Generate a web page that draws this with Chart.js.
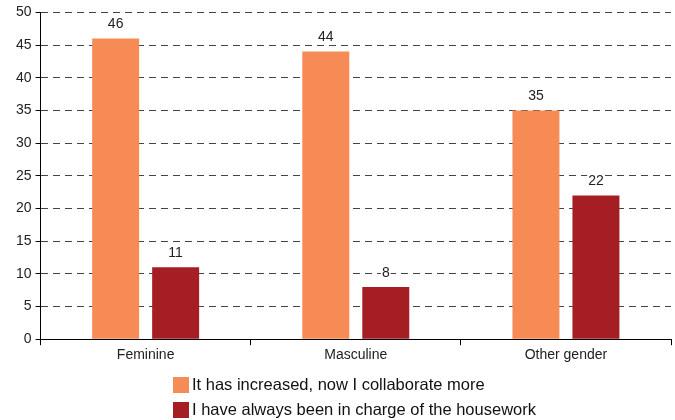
<!DOCTYPE html>
<html>
<head>
<meta charset="utf-8">
<script src="https://cdn.jsdelivr.net/npm/chart.js@4"></script>
<style>
  body { margin: 0; background: #fff; }
  #wrap { position: relative; width: 675px; height: 420px; }
  #legend { position: absolute; left: 173px; top: 372px; font: 16.5px "Liberation Sans", Arial, sans-serif; color: #111; }
  .item { height: 25px; display: flex; align-items: center; }
  .box { width: 16px; height: 16px; margin-right: 3px; }
</style>
</head>
<body>
<div id="wrap">
  <canvas id="chart" width="675" height="420"></canvas>
  <div id="legend"></div>
</div>
<script>
// chart data
const categories = ["Feminine", "Masculine", "Other gender"];
const increased = [46, 44, 35];
const alwaysInCharge = [11, 8, 22];
const seriesNames = ["It has increased, now I collaborate more", "I have always been in charge of the housework"];
const seriesColors = ["#F68B55", "#A51E24"];

const fontFamily = "'Liberation Sans', Arial, sans-serif";

// value labels over the bars
const valueLabels = {
  id: "valueLabels",
  afterDatasetsDraw(chart) {
    const ctx = chart.ctx;
    ctx.save();
    ctx.font = "14px " + fontFamily;
    ctx.textAlign = "center";
    ctx.textBaseline = "bottom";
    chart.data.datasets.forEach((ds, i) => {
      chart.getDatasetMeta(i).data.forEach((bar, j) => {
        const txt = String(ds.data[j]);
        const w = ctx.measureText(txt).width;
        ctx.fillStyle = "#fff";
        ctx.fillRect(bar.x - w / 2 - 1, bar.y - 22, w + 2, 15);
        ctx.fillStyle = "#222";
        ctx.fillText(txt, bar.x, bar.y - 7);
      });
    });
    ctx.restore();
  }
};

const chart = new Chart(document.getElementById("chart"), {
  type: "bar",
  data: {
    labels: categories,
    datasets: [
      { label: seriesNames[0], data: increased, backgroundColor: seriesColors[0] },
      { label: seriesNames[1], data: alwaysInCharge, backgroundColor: seriesColors[1] }
    ]
  },
  options: {
    responsive: false,
    animation: false,
    categoryPercentage: 0.571,
    barPercentage: 0.783,
    layout: { padding: { top: 10, right: 4, bottom: 54, left: 12 } },
    plugins: { legend: { display: false }, tooltip: { enabled: false } },
    scales: {
      x: {
        grid: { drawOnChartArea: false, color: "#000", tickLength: 6 },
        border: { color: "#000", width: 1 },
        ticks: { color: "#222", padding: 2, font: { family: fontFamily, size: 14 } }
      },
      y: {
        min: 0,
        max: 50,
        ticks: { stepSize: 5, color: "#222", padding: 4, font: { family: fontFamily, size: 14 } },
        grid: { color: "#444", tickLength: 5, tickColor: "#000", tickBorderDash: [] },
        border: { color: "#000", width: 1, dash: [7, 5] }
      }
    }
  },
  plugins: [valueLabels]
});

// legend below the chart
const legend = document.getElementById("legend");
seriesNames.forEach((name, i) => {
  legend.innerHTML += `<div class="item"><span class="box" style="background:${seriesColors[i]}"></span>${name}</div>`;
});
</script>
</body>
</html>
